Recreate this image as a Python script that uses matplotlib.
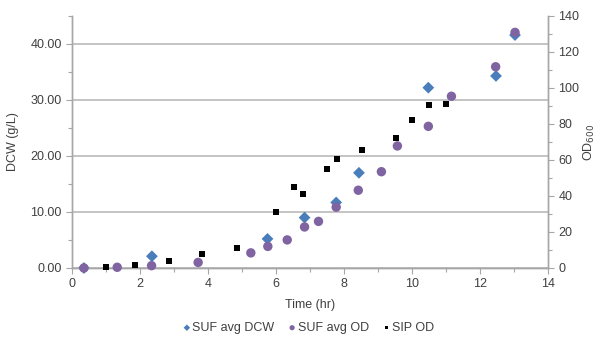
import matplotlib
matplotlib.use("Agg")
import matplotlib.pyplot as plt
from matplotlib.ticker import MultipleLocator, FormatStrFormatter

plt.rcParams['font.family'] = ['Liberation Sans', 'DejaVu Sans']

# SUF avg DCW (left axis, g/L)
dcw_time = [0.35, 2.35, 5.75, 6.84, 7.77, 8.44, 10.48, 12.47, 13.03]
dcw_val = [0.0, 2.1, 5.2, 9.0, 11.7, 17.0, 32.2, 34.3, 41.6]

# SUF avg OD (right axis)
suf_od_time = [0.35, 1.33, 2.34, 3.71, 5.26, 5.76, 6.33, 6.84, 7.25, 7.77,
               8.42, 9.10, 9.57, 10.48, 11.16, 12.46, 13.03]
suf_od_val = [0.0, 0.4, 1.3, 3.1, 8.4, 12.0, 15.6, 22.8, 25.9, 33.8,
              43.2, 53.5, 67.8, 78.7, 95.4, 111.8, 130.9]

# SIP OD (right axis)
sip_od_time = [1.01, 1.84, 2.84, 3.83, 4.84, 6.01, 6.52, 6.80, 7.51, 7.80,
               8.52, 9.52, 10.01, 10.51, 11.01]
sip_od_val = [0.7, 1.5, 3.7, 7.9, 11.3, 30.9, 45.2, 41.1, 54.8, 60.6,
              65.6, 72.0, 82.0, 90.5, 90.9]

BLUE = '#4a7ebb'
PURPLE = '#8064a2'
TXT = '#404040'
AX = '#a6a6a6'
GRID = '#bfbfbf'

fig = plt.figure(figsize=(6.01, 3.39), dpi=100)
ax = fig.add_axes([72/601, 71/339, (548-72)/601, (268-16)/339])
ax2 = ax.twinx()

ax.set_xlim(0, 14)
ax.set_ylim(0, 45)
ax2.set_ylim(0, 140)

ax.xaxis.set_major_locator(MultipleLocator(2))
ax.xaxis.set_minor_locator(MultipleLocator(1))
ax.yaxis.set_major_locator(MultipleLocator(10))
ax.yaxis.set_minor_locator(MultipleLocator(5))
ax.yaxis.set_major_formatter(FormatStrFormatter('%.2f'))
ax2.yaxis.set_major_locator(MultipleLocator(20))
ax2.yaxis.set_minor_locator(MultipleLocator(10))

ax.grid(axis='y', which='major', color=GRID, linewidth=1.3)
ax.set_axisbelow(True)

for a in (ax, ax2):
    a.spines['top'].set_visible(False)
    for s in ('left', 'right', 'bottom'):
        a.spines[s].set_color(AX)
        a.spines[s].set_linewidth(1.0)
    a.tick_params(which='both', colors=AX, labelcolor=TXT, labelsize=9, width=0.8)
    a.tick_params(which='major', length=4)
    a.tick_params(which='minor', length=3)

ax.set_xlabel('Time (hr)', fontsize=9, color=TXT, labelpad=6)
ax.set_ylabel('DCW (g/L)', fontsize=9, color=TXT, labelpad=8)
ax2.set_ylabel(r'OD$_{600}$', fontsize=9, color=TXT, labelpad=2)

h1 = ax.scatter(dcw_time, dcw_val, marker='D', s=36, color=BLUE,
                edgecolors='none', label='SUF avg DCW', zorder=3, clip_on=False)
h2 = ax2.scatter(suf_od_time, suf_od_val, marker='o', s=46, color=PURPLE,
                 edgecolors='none', label='SUF avg OD', zorder=3, clip_on=False)
h3 = ax2.scatter(sip_od_time, sip_od_val, marker='s', s=18, color='black',
                 edgecolors='none', label='SIP OD', zorder=4, clip_on=False)

leg = fig.legend(handles=[h1, h2, h3], loc='center', bbox_to_anchor=(308/601, 1 - 328/339),
                 ncol=3, frameon=False, fontsize=9, handletextpad=0.05,
                 columnspacing=1.0, markerscale=0.55, handlelength=0.8)
for t in leg.get_texts():
    t.set_color(TXT)

fig.savefig('out.png', dpi=100)
